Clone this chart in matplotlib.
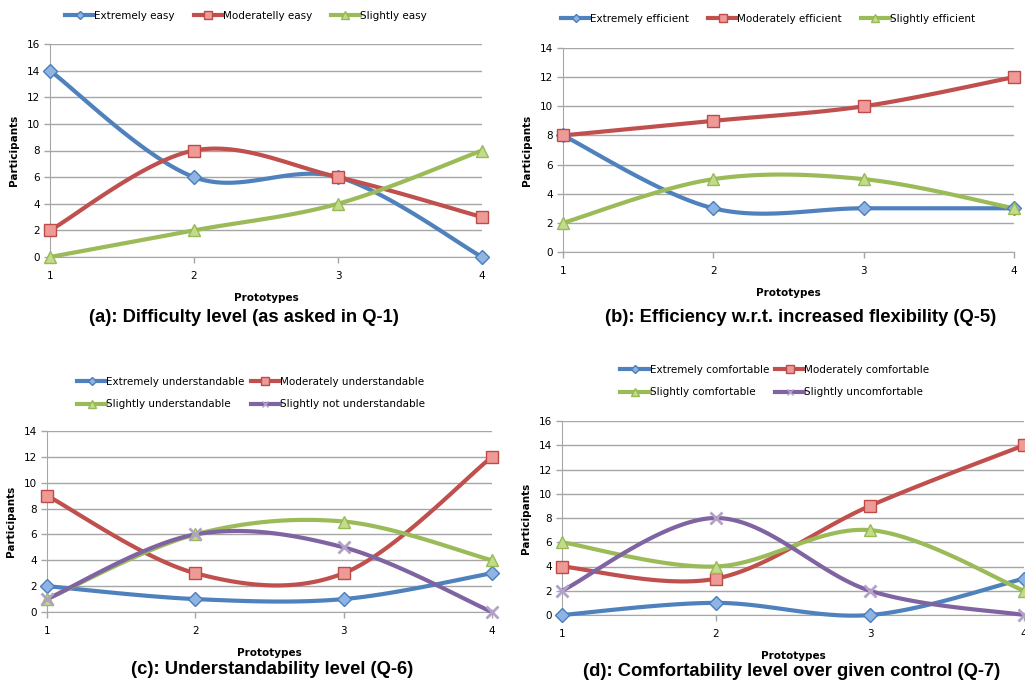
import numpy as np
import matplotlib
matplotlib.use('Agg')
import matplotlib.pyplot as plt
from matplotlib.lines import Line2D

prototypes = [1, 2, 3, 4]

# (a) difficulty
easy_labels = ['Extremely easy', 'Moderatelly easy', 'Slightly easy']
extremely_easy = [14, 6, 6, 0]
moderately_easy = [2, 8, 6, 3]
slightly_easy = [0, 2, 4, 8]

# (b) efficiency
eff_labels = ['Extremely efficient', 'Moderately efficient', 'Slightly efficient']
extremely_eff = [8, 3, 3, 3]
moderately_eff = [8, 9, 10, 12]
slightly_eff = [2, 5, 5, 3]

# (c) understandability
und_labels = ['Extremely understandable', 'Moderately understandable',
              'Slightly understandable', 'Slightly not understandable']
extremely_und = [2, 1, 1, 3]
moderately_und = [9, 3, 3, 12]
slightly_und = [1, 6, 7, 4]
slightly_not_und = [1, 6, 5, 0]

# (d) comfort
comf_labels = ['Extremely comfortable', 'Moderately comfortable',
               'Slightly comfortable', 'Slightly uncomfortable']
extremely_comf = [0, 1, 0, 3]
moderately_comf = [4, 3, 9, 14]
slightly_comf = [6, 4, 7, 2]
slightly_uncomf = [2, 8, 2, 0]

titles = ['(a): Difficulty level (as asked in Q-1)',
          '(b): Efficiency w.r.t. increased flexibility (Q-5)',
          '(c): Understandability level (Q-6)',
          '(d): Comfortability level over given control (Q-7)']

# line colour, marker, marker face, marker edge, marker size
styles = [('#4F81BD', 'D', '#8FB4E3', '#4A7EBB', 7),
          ('#C0504D', 's', '#EE9A97', '#BE4B48', 8.5),
          ('#9BBB59', '^', '#C3DC8C', '#98B954', 8.5),
          ('#8064A2', 'x', '#B3A2C7', '#A592BE', 8)]


def smooth(x, y, n=40):
    # excel-like smoothed line (catmull-rom bezier)
    x = np.asarray(x, float)
    y = np.asarray(y, float)
    px = np.concatenate([[x[0]], x, [x[-1]]])
    py = np.concatenate([[y[0]], y, [y[-1]]])
    xs, ys = [], []
    t = np.linspace(0, 1, n)
    for i in range(1, len(px) - 2):
        p0 = np.array([px[i], py[i]])
        p3 = np.array([px[i + 1], py[i + 1]])
        p1 = p0 + (np.array([px[i + 1], py[i + 1]]) - np.array([px[i - 1], py[i - 1]])) / 6
        p2 = p3 - (np.array([px[i + 2], py[i + 2]]) - np.array([px[i], py[i]])) / 6
        b = ((1 - t) ** 3)[:, None] * p0 + (3 * (1 - t) ** 2 * t)[:, None] * p1 \
            + (3 * (1 - t) * t ** 2)[:, None] * p2 + (t ** 3)[:, None] * p3
        xs.extend(b[:, 0])
        ys.extend(b[:, 1])
    return xs, ys


def panel(ax, series, labels, ymax, legend_pos, ncol, colsp):
    handles = []
    for k, ys in enumerate(series):
        c, m, fc, ec, ms = styles[k]
        sx, sy = smooth(prototypes, ys)
        ax.plot(sx, sy, color=c, lw=3, zorder=3, clip_on=False, solid_capstyle='round')
        if m == 'x':
            ax.plot(prototypes, ys, ls='none', marker=m, ms=ms, mew=2, color=fc,
                    zorder=4, clip_on=False)
        else:
            ax.plot(prototypes, ys, ls='none', marker=m, ms=ms, mfc=fc, mec=ec,
                    mew=1, zorder=4, clip_on=False)
        handles.append(Line2D([], [], color=c, lw=3, marker=m, ms=ms * 0.6,
                              mfc=fc, mec=ec if m != 'x' else fc, mew=1))
    ax.set_xlim(1, 4)
    ax.set_ylim(0, ymax)
    ax.set_xticks(prototypes)
    ax.set_yticks(range(0, ymax + 1, 2))
    ax.yaxis.grid(True, color='#A6A6A6', lw=1)
    ax.set_axisbelow(True)
    for s in ['top', 'right']:
        ax.spines[s].set_visible(False)
    for s in ['left', 'bottom']:
        ax.spines[s].set_color('#A6A6A6')
    ax.tick_params(colors='#A6A6A6', labelcolor='black', labelsize=7.5, length=4, width=1)
    ax.tick_params(axis='x', pad=6)
    ax.set_xlabel('Prototypes', fontsize=7.5, fontweight='bold', labelpad=9)
    ax.set_ylabel('Participants', fontsize=7.5, fontweight='bold', labelpad=5)
    if ncol == 2 and len(handles) == 4:
        order = [0, 2, 1, 3]
        handles = [handles[i] for i in order]
        labels = [labels[i] for i in order]
    fig.legend(handles, labels, loc='center', bbox_to_anchor=legend_pos, ncol=ncol,
               frameon=False, fontsize=7.5, handlelength=2.8, handletextpad=0.0,
               columnspacing=colsp, labelspacing=1.2)


fig = plt.figure(figsize=(10.25, 6.84), dpi=100)

ax_a = fig.add_axes([50 / 1025, 1 - 257 / 684, 432 / 1025, 213 / 684])
ax_b = fig.add_axes([563 / 1025, 1 - 252 / 684, 451 / 1025, 204 / 684])
ax_c = fig.add_axes([47 / 1025, 1 - 612 / 684, 445 / 1025, 181 / 684])
ax_d = fig.add_axes([562 / 1025, 1 - 615 / 684, 462 / 1025, 194 / 684])

panel(ax_a, [extremely_easy, moderately_easy, slightly_easy], easy_labels, 16,
      (246 / 1025, 1 - 16 / 684), 3, 1.8)
panel(ax_b, [extremely_eff, moderately_eff, slightly_eff], eff_labels, 14,
      (768 / 1025, 1 - 19 / 684), 3, 1.8)
panel(ax_c, [extremely_und, moderately_und, slightly_und, slightly_not_und], und_labels, 14,
      (251 / 1025, 1 - 393 / 684), 2, 0.6)
panel(ax_d, [extremely_comf, moderately_comf, slightly_comf, slightly_uncomf], comf_labels, 16,
      (775 / 1025, 1 - 381 / 684), 2, 0.6)

title_pos = [(244, 318), (801, 318), (272, 670), (792, 671)]
for t, (x, y) in zip(titles, title_pos):
    fig.text(x / 1025, 1 - y / 684, t, ha='center', va='center', fontsize=13.2,
             fontweight='bold', family='Liberation Sans')

fig.savefig('out.png', dpi=100)
